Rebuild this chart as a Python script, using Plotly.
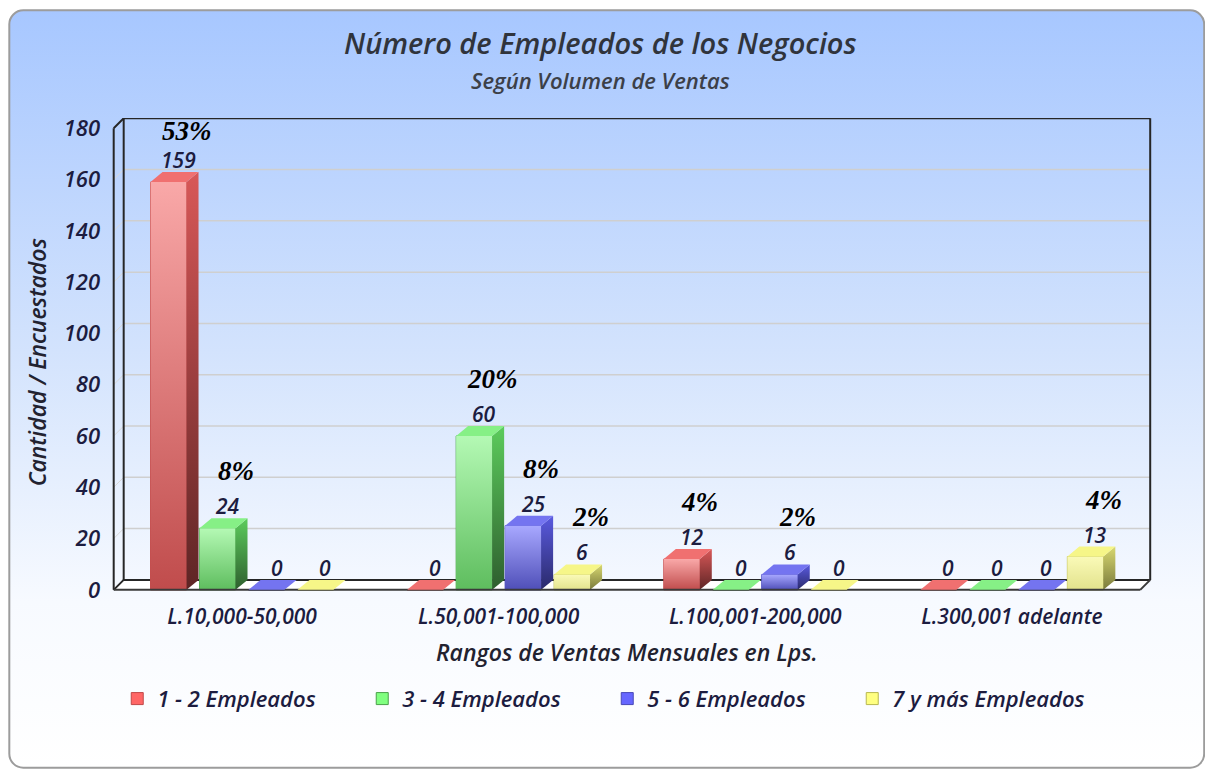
import base64
import plotly.graph_objects as go

# ---------------- data ----------------
categories = ["L.10,000-50,000", "L.50,001-100,000", "L.100,001-200,000", "L.300,001 adelante"]
series_names = ["1 - 2 Empleados", "3 - 4 Empleados", "5 - 6 Empleados", "7 y más Empleados"]
emp_1_2 = [159, 0, 12, 0]
emp_3_4 = [24, 60, 0, 0]
emp_5_6 = [0, 25, 6, 0]
emp_7_mas = [0, 6, 0, 13]
pct_1_2 = ["53%", "", "4%", ""]
pct_3_4 = ["8%", "20%", "", ""]
pct_5_6 = ["", "8%", "2%", ""]
pct_7_mas = ["", "2%", "", "4%"]
y_ticks = [0, 20, 40, 60, 80, 100, 120, 140, 160, 180]

title_text = "Número de Empleados de los Negocios"
subtitle_text = "Según Volumen de Ventas"
x_title = "Rangos de Ventas Mensuales en Lps."
y_title = "Cantidad / Encuestados"

# ---------------- styles ----------------
legend_colors = ["#ff6666", "#80ff80", "#6666ff", "#ffff80"]
legend_lines = ["#c04848", "#4aa04a", "#4848b8", "#b8b850"]
front_top = ["#f9a8a8", "#b4f9b4", "#a8a8ff", "#fafab8"]
front_bot = ["#c04c4c", "#5ebd5e", "#4f4fb8", "#e2e28c"]
side_top = ["#d85858", "#5ccc5c", "#5a5ae0", "#d8d870"]
side_bot = ["#5e2525", "#2e5e2e", "#2a2a6a", "#7a7a3c"]
top_face = ["#f07070", "#86f086", "#7474f0", "#f6f688"]

W, H = 1205, 773
Y0_PX, Y180_PX = 590.0, 128.0
ky = (Y0_PX - Y180_PX) / 180.0
YR = [-2.0, 184.0]
t_m = Y180_PX - (YR[1] - 180) * ky
b_m = H - (Y0_PX - YR[0] * ky)
XL_PX, XR_PX = 113.0, 1140.0
kx = (XR_PX - XL_PX) / 4.0
XR = [-0.53, 3.62]
l_nom = XL_PX - (XR[0] + 0.5) * kx
r_m = W - (XR_PX + (XR[1] - 3.5) * kx)
L_FUDGE = 15.0
l_m = l_nom - L_FUDGE
plot_w = W - l_m - r_m
plot_h = H - t_m - b_m


def pxx(px):
    return (px - l_m) / plot_w


def pxy(py):
    return (H - b_m - py) / plot_h


slot = 49.0 / kx
bw = 36.0 / kx
dxb, dyb = 12.0 / kx, 10.0 / ky
dxw, dyw = 10.0 / kx, 10.0 / ky

FONT = "Open Sans"
TXT = "#1c1c40"

all_vals = [emp_1_2, emp_3_4, emp_5_6, emp_7_mas]
all_pct = [pct_1_2, pct_3_4, pct_5_6, pct_7_mas]
xs = list(range(len(categories)))

fig = go.Figure()
shapes = []
annotations = []

# background (rounded gradient panel)
svg = (
    f'<svg xmlns="http://www.w3.org/2000/svg" width="{W}" height="{H}" viewBox="0 0 {W} {H}">'
    '<defs><linearGradient id="g" x1="0" y1="0" x2="0" y2="1">'
    '<stop offset="0" stop-color="#a7c7ff"/>'
    '<stop offset="0.45" stop-color="#d3e3fd"/>'
    '<stop offset="0.78" stop-color="#f7faff"/>'
    '<stop offset="1" stop-color="#ffffff"/>'
    '</linearGradient></defs>'
    '<rect x="9" y="10" width="1195" height="758" rx="14" ry="14" fill="url(#g)" '
    'stroke="#9c9c9c" stroke-width="2"/></svg>'
)
src = "data:image/svg+xml;base64," + base64.b64encode(svg.encode()).decode()

# back-wall gridlines and frame
x_left, x_right = -0.5, 3.5
for v in y_ticks[1:-1]:
    shapes.append(dict(type="line", xref="x", yref="y", x0=x_left + dxw, x1=x_right + dxw,
                       y0=v + dyw, y1=v + dyw, line=dict(color="#cfcfcf", width=1.5), layer="below"))
    shapes.append(dict(type="line", xref="x", yref="y", x0=x_left, x1=x_left + dxw,
                       y0=v, y1=v + dyw, line=dict(color="#d8d8d8", width=1), layer="below"))
# floor
shapes.append(dict(type="path", xref="x", yref="y",
                   path=f"M{x_left},0 L{x_right},0 L{x_right + dxw},{dyw} L{x_left + dxw},{dyw} Z",
                   fillcolor="#ffffff", line=dict(width=0), layer="below"))
frame_col = "#262626"
back_lines = [
    (x_left + dxw, dyw, x_left + dxw, 180 + dyw),
    (x_left + dxw, 180 + dyw, x_right + dxw, 180 + dyw),
    (x_right + dxw, dyw, x_right + dxw, 180 + dyw),
    (x_left + dxw, dyw, x_right + dxw, dyw),
    (x_left, 0, x_left, 180),
    (x_left, 180, x_left + dxw, 180 + dyw),
    (x_left, 0, x_left + dxw, dyw),
]
for (a, b, c, d) in back_lines:
    shapes.append(dict(type="line", xref="x", yref="y", x0=a, y0=b, x1=c, y1=d,
                       line=dict(color=frame_col, width=2), layer="below"))
front_lines = [
    (x_left, 0, x_right, 0),
    (x_right, 0, x_right + dxw, dyw),
]
for (a, b, c, d) in front_lines:
    shapes.append(dict(type="line", xref="x", yref="y", x0=a, y0=b, x1=c, y1=d,
                       line=dict(color="#3a3a3a", width=2), layer="above"))

# bars
for j, (name, vals, pcts) in enumerate(zip(series_names, all_vals, all_pct)):
    off = (j - 1.5) * slot
    fig.add_trace(go.Bar(
        x=xs, y=vals, name=name, width=bw, offset=off - bw / 2,
        marker=dict(color=legend_colors[j], line=dict(color=legend_lines[j], width=1)),
        hoverinfo="y+name",
    ))
    for i, v in enumerate(vals):
        c = xs[i] + off
        x0, x1 = c - bw / 2, c + bw / 2
        if v > 0:
            fig.add_trace(go.Scatter(
                x=[x0, x1, x1, x0, x0], y=[0, 0, v, v, 0], fill="toself", mode="none",
                fillgradient=dict(type="vertical", colorscale=[[0, front_bot[j]], [1, front_top[j]]]),
                showlegend=False, hoverinfo="skip"))
            fig.add_trace(go.Scatter(
                x=[x1, x1 + dxb, x1 + dxb, x1, x1], y=[0, dyb, v + dyb, v, 0], fill="toself", mode="none",
                fillgradient=dict(type="vertical", colorscale=[[0, side_bot[j]], [1, side_top[j]]]),
                showlegend=False, hoverinfo="skip"))
        shapes.append(dict(type="path", xref="x", yref="y",
                           path=f"M{x0},{v} L{x1},{v} L{x1 + dxb},{v + dyb} L{x0 + dxb},{v + dyb} Z",
                           fillcolor=top_face[j], line=dict(width=0), layer="above"))
        annotations.append(dict(x=c, y=v, xref="x", yref="y", text=str(v), showarrow=False,
                                xshift=10, yshift=22, yanchor="middle",
                                font=dict(family=FONT, size=21, color=TXT, style="italic", weight=600)))
        if pcts[i]:
            ys = min(57.0, (Y0_PX - v * ky) - 131.0)
            annotations.append(dict(x=c, y=v, xref="x", yref="y", text=pcts[i], showarrow=False,
                                    xshift=18, yshift=ys, yanchor="middle",
                                    font=dict(family="Liberation Serif", size=27, color="#000000",
                                              weight="bold", style="italic")))

# titles
annotations += [
    dict(x=pxx(600), y=pxy(42), xref="paper", yref="paper", text=title_text, showarrow=False,
         font=dict(family=FONT, size=29, color="#30343c", style="italic", weight=600), yanchor="middle"),
    dict(x=pxx(600), y=pxy(80), xref="paper", yref="paper", text=subtitle_text, showarrow=False,
         font=dict(family=FONT, size=22, color="#3c4048", style="italic", weight=600), yanchor="middle"),
    dict(x=pxx(627), y=pxy(652), xref="paper", yref="paper", text=x_title, showarrow=False,
         font=dict(family=FONT, size=23, color="#222230", style="italic", weight=600), yanchor="middle"),
    dict(x=pxx(37), y=pxy(362), xref="paper", yref="paper", text=y_title, showarrow=False,
         textangle=-90, font=dict(family=FONT, size=23, color="#222230", style="italic", weight=600),
         xanchor="center", yanchor="middle"),
]

fig.update_layout(
    width=W, height=H,
    margin=dict(l=l_m, r=r_m, t=t_m, b=b_m, pad=0, autoexpand=False),
    paper_bgcolor="#ffffff", plot_bgcolor="rgba(0,0,0,0)",
    barmode="overlay",
    showlegend=True,
    legend=dict(orientation="h", x=pxx(607), xanchor="center", y=pxy(699), yanchor="middle",
                font=dict(family=FONT, size=22, color=TXT, style="italic", weight=600),
                bgcolor="rgba(0,0,0,0)", traceorder="normal", entrywidth=200),
    xaxis=dict(range=XR, tickvals=xs, ticktext=categories, showgrid=False, zeroline=False,
               showline=False, ticks="", ticklabelstandoff=7, automargin=False,
               tickfont=dict(family=FONT, size=21, color=TXT, style="italic", weight=600),
               fixedrange=True),
    yaxis=dict(range=YR, tickvals=y_ticks, showgrid=False, zeroline=False, showline=False,
               ticks="", ticklabelstandoff=5, automargin=False,
               tickfont=dict(family=FONT, size=22, color=TXT, style="italic", weight=600),
               fixedrange=True),
    images=[dict(source=src, xref="paper", yref="paper", x=pxx(0), y=pxy(0),
                 sizex=W / plot_w, sizey=H / plot_h, xanchor="left", yanchor="top",
                 sizing="stretch", layer="below")],
    shapes=shapes,
    annotations=annotations,
)

fig.write_html("out.html", post_script="document.body.style.margin='0';",
               config={"displayModeBar": False})
